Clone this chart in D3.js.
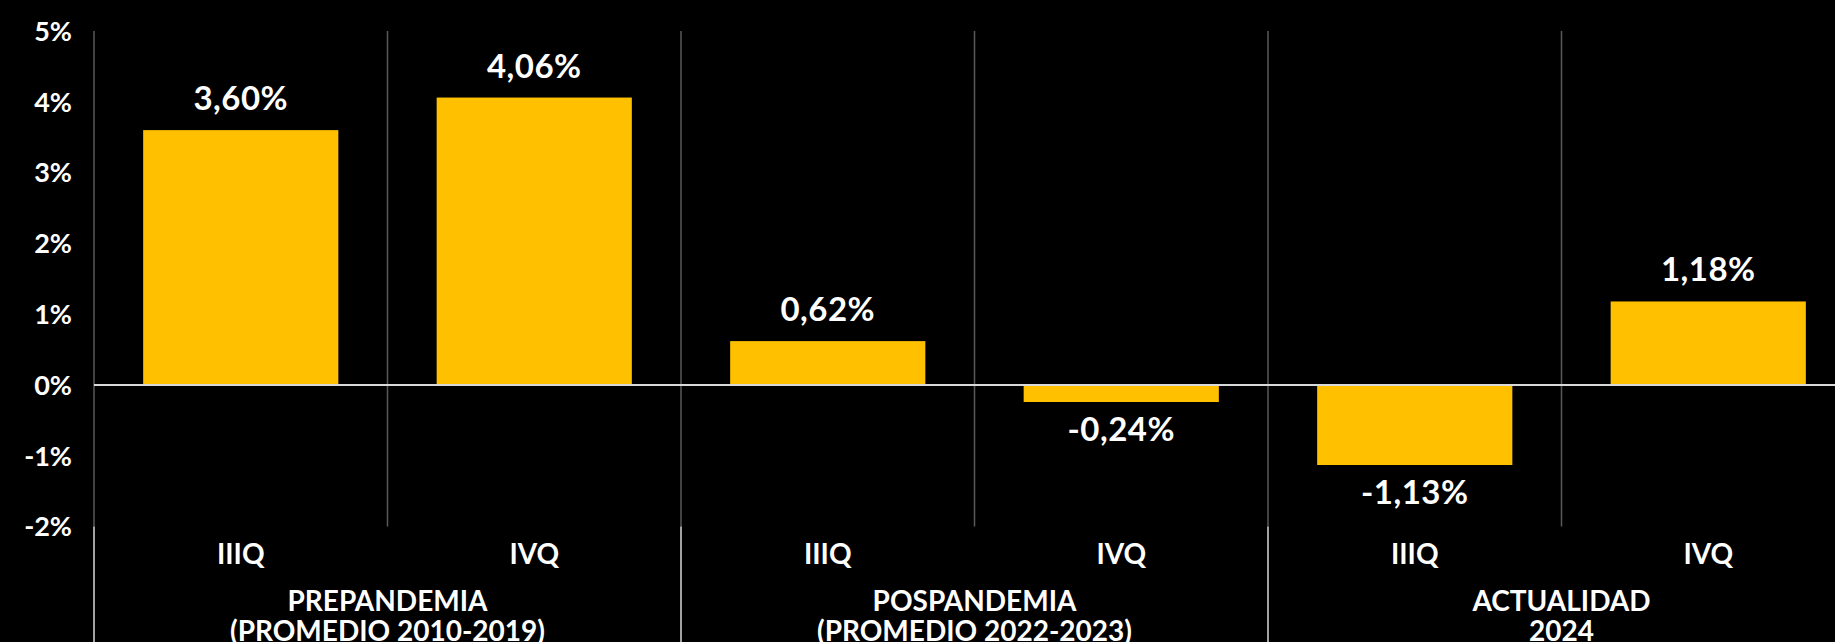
<!DOCTYPE html>
<html>
<head>
<meta charset="utf-8">
<script src="https://cdn.jsdelivr.net/npm/d3@7"></script>
<style>
  html, body { margin: 0; padding: 0; background: #000; overflow: hidden; }
  text { font-family: Lato, "Open Sans", sans-serif; font-weight: 700; fill: #fff; }
</style>
</head>
<body>
<svg id="chart" width="1835" height="642"></svg>
<script>
// data
var quarters = ["IIIQ", "IVQ", "IIIQ", "IVQ", "IIIQ", "IVQ"];
var values = [3.60, 4.06, 0.62, -0.24, -1.13, 1.18];
var groupLines = [
  ["PREPANDEMIA", "(PROMEDIO 2010-2019)"],
  ["POSPANDEMIA", "(PROMEDIO 2022-2023)"],
  ["ACTUALIDAD", "2024"]
];
var yTicks = [-2, -1, 0, 1, 2, 3, 4, 5];

var GOLD = "#FFC000";
var left = 94, step = 293.5;

var svg = d3.select("#chart");

var x = d3.scaleBand()
  .domain(d3.range(values.length))
  .range([left, left + step * values.length])
  .paddingInner(0.335)
  .paddingOuter(0.1675);

var y = d3.scaleLinear()
  .domain([-2, 5])
  .range([526.6, 31]);

function fmt(v){
  return v.toFixed(2).replace(".", ",") + "%";
}

//Vertical separators between categories
var bounds = d3.range(values.length + 1).map(function(i){ return left + i * x.step(); });
svg.append("g").selectAll("line").data(bounds)
  .enter().append("line")
    .attr("x1", function(d){ return d; })
    .attr("x2", function(d){ return d; })
    .attr("y1", y(5))
    .attr("y2", y(-2))
    .attr("stroke", "#595959")
    .attr("stroke-width", 1.5);

//Group separators in the axis area
svg.append("g").selectAll("line").data(bounds.filter(function(d, i){ return i % 2 == 0; }))
  .enter().append("line")
    .attr("x1", function(d){ return d; })
    .attr("x2", function(d){ return d; })
    .attr("y1", y(-2))
    .attr("y2", 642)
    .attr("stroke", "#d9d9d9")
    .attr("stroke-width", 1.5);

//Y axis labels
svg.append("g").selectAll("text").data(yTicks)
  .enter().append("text")
    .attr("x", 72)
    .attr("y", function(d){ return y(d); })
    .attr("dy", "0.36em")
    .attr("text-anchor", "end")
    .style("font-size", "27px")
    .text(function(d){ return d + "%"; });

//Bars
svg.append("g").selectAll("rect").data(values)
  .enter().append("rect")
    .attr("x", function(d, i){ return x(i); })
    .attr("width", x.bandwidth())
    .attr("y", function(d){ return y(Math.max(0, d)); })
    .attr("height", function(d){ return Math.abs(y(d) - y(0)); })
    .attr("fill", GOLD);

//Zero line
svg.append("line")
  .attr("x1", left)
  .attr("x2", 1835)
  .attr("y1", y(0))
  .attr("y2", y(0))
  .attr("stroke", "#d9d9d9")
  .attr("stroke-width", 2);

//Value labels
svg.append("g").selectAll("text").data(values)
  .enter().append("text")
    .attr("x", function(d, i){ return x(i) + x.bandwidth() / 2; })
    .attr("y", function(d){ return d >= 0 ? y(d) - 20 : y(d) + 39; })
    .attr("text-anchor", "middle")
    .style("font-size", "33px")
    .style("letter-spacing", "0.5px")
    .text(fmt);

//Quarter labels
svg.append("g").selectAll("text").data(quarters)
  .enter().append("text")
    .attr("x", function(d, i){ return x(i) + x.bandwidth() / 2; })
    .attr("y", 564)
    .attr("text-anchor", "middle")
    .style("font-size", "28px")
    .text(function(d){ return d; });

//Group labels
var g = svg.append("g").selectAll("text").data(groupLines)
  .enter().append("text")
    .attr("x", function(d, i){ return left + (i * 2 + 1) * x.step(); })
    .attr("text-anchor", "middle")
    .style("font-size", "28px");

g.selectAll("tspan").data(function(d){ return d; })
  .enter().append("tspan")
    .attr("x", function(){ return d3.select(this.parentNode).attr("x"); })
    .attr("y", function(d, i){ return 611 + i * 30; })
    .text(function(d){ return d; });
</script>
</body>
</html>
